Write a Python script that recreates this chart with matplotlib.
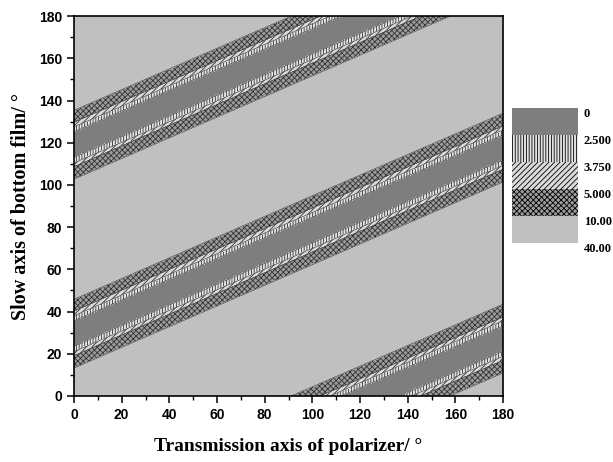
import numpy as np
import matplotlib
matplotlib.use("Agg")
import matplotlib.pyplot as plt
from matplotlib.ticker import MultipleLocator

# contour levels and how each band is drawn
levels = [0, 2.5, 3.75, 5, 10, 40]
level_labels = ["0", "2.500", "3.750", "5.000", "10.00", "40.00"]
band_colors = ["#7e7e7e", "#e4e4e4", "#dadada", "#9c9c9c", "#c0c0c0"]
band_hatches = [None, "||||||", "//////", "xxxxxx", None]

# dark valleys run along y = slope * x + offset
valley_slope = 0.49
valley_offsets = [-61, 29.5, 119]

# value profile across a valley: vertical distance from centre line -> value
profile_dist = [0, 6.3, 8.6, 10.9, 16.4, 45]
profile_val = [0, 2.5, 3.75, 5, 10, 39]

plt.rcParams["hatch.color"] = "#333333"
plt.rcParams["hatch.linewidth"] = 0.6

xs = np.arange(0, 181, 10)
ys = np.arange(0, 181, 5)
X, Y = np.meshgrid(xs, ys)
dist = np.min([np.abs(Y - (valley_slope * X + c)) for c in valley_offsets], axis=0)
Z = np.interp(dist, profile_dist, profile_val)

fig = plt.figure(figsize=(6.13, 4.62), dpi=100)
ax = fig.add_axes([0.1207, 0.143, 0.7, 0.822])

cf = ax.contourf(X, Y, Z, levels=levels, colors=band_colors, hatches=band_hatches)
ax.contour(X, Y, Z, levels=levels[1:-1], colors="#333333", linewidths=0.4)

ax.set_xlim(0, 180)
ax.set_ylim(0, 180)
ax.xaxis.set_major_locator(MultipleLocator(20))
ax.xaxis.set_minor_locator(MultipleLocator(10))
ax.yaxis.set_major_locator(MultipleLocator(20))
ax.yaxis.set_minor_locator(MultipleLocator(10))
ax.tick_params(which="major", direction="out", length=5, width=1.1)
ax.tick_params(which="minor", direction="out", length=3, width=1.0)
for lab in ax.get_xticklabels() + ax.get_yticklabels():
    lab.set_family("Liberation Sans")
    lab.set_fontweight("bold")
    lab.set_fontsize(10)
for sp in ax.spines.values():
    sp.set_linewidth(1.2)

ax.set_xlabel("Transmission axis of polarizer/ °", family="Liberation Serif",
              fontweight="bold", fontsize=14, labelpad=12)
ax.set_ylabel("Slow axis of bottom film/ °", family="Liberation Serif",
              fontweight="bold", fontsize=14.5, labelpad=6)

cax = fig.add_axes([0.835, 0.474, 0.108, 0.292])
cb = fig.colorbar(cf, cax=cax)
cb.ax.invert_yaxis()
cb.outline.set_visible(False)
cb.set_ticks(levels)
cb.set_ticklabels(level_labels)
cb.ax.tick_params(length=0, pad=4)
for lab in cb.ax.get_yticklabels():
    lab.set_family("Liberation Serif")
    lab.set_fontweight("bold")
    lab.set_fontsize(9)
    lab.set_verticalalignment("top")

fig.savefig("out.png", dpi=100)
